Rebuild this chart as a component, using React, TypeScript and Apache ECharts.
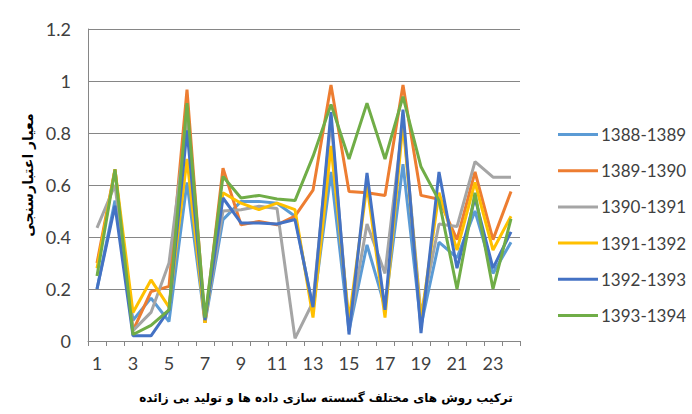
import React, { useEffect, useRef } from "react";
import * as echarts from "echarts";

const categories = ["1","2","3","4","5","6","7","8","9","10","11","12","13","14","15","16","17","18","19","20","21","22","23","24"];
const seriesNames = ["1388-1389", "1389-1390", "1390-1391", "1391-1392", "1392-1393", "1393-1394"];
const s1388 = [0.20, 0.54, 0.08, 0.165, 0.075, 0.61, 0.07, 0.467, 0.537, 0.537, 0.53, 0.48, 0.12, 0.65, 0.04, 0.37, 0.13, 0.68, 0.06, 0.38, 0.32, 0.50, 0.26, 0.38];
const s1389 = [0.30, 0.66, 0.04, 0.19, 0.21, 0.967, 0.07, 0.665, 0.447, 0.46, 0.447, 0.48, 0.58, 0.985, 0.575, 0.57, 0.56, 0.985, 0.56, 0.545, 0.39, 0.65, 0.39, 0.575];
const s1390 = [0.435, 0.60, 0.04, 0.11, 0.30, 0.85, 0.08, 0.50, 0.505, 0.518, 0.51, 0.01, 0.15, 0.85, 0.05, 0.45, 0.26, 0.85, 0.10, 0.45, 0.44, 0.69, 0.63, 0.63];
const s1391 = [0.28, 0.66, 0.11, 0.235, 0.13, 0.70, 0.07, 0.57, 0.53, 0.505, 0.53, 0.505, 0.09, 0.75, 0.08, 0.60, 0.09, 0.84, 0.08, 0.57, 0.35, 0.61, 0.35, 0.48];
const s1392 = [0.20, 0.52, 0.02, 0.02, 0.12, 0.81, 0.08, 0.55, 0.454, 0.454, 0.45, 0.467, 0.13, 0.88, 0.025, 0.646, 0.12, 0.89, 0.03, 0.65, 0.28, 0.55, 0.28, 0.42];
const s1393 = [0.25, 0.66, 0.025, 0.06, 0.12, 0.915, 0.09, 0.633, 0.55, 0.56, 0.546, 0.54, 0.71, 0.91, 0.70, 0.915, 0.70, 0.94, 0.67, 0.54, 0.20, 0.57, 0.20, 0.47];
const colors = ["#5B9BD5", "#ED7D31", "#A5A5A5", "#FFC000", "#4472C4", "#70AD47"];
const xTitle = "ترکیب روش های مختلف گسسته سازی داده ها و تولید بی زائده";
const yTitle = "معیار اعتبارسنجی";

export default function App() {
  const ref = useRef<HTMLDivElement>(null);
  useEffect(() => {
    if (!ref.current) return;
    const chart = echarts.init(ref.current, null, { renderer: "svg" });
    const data = [s1388, s1389, s1390, s1391, s1392, s1393];
    const latin = "Lato, 'Open Sans', sans-serif";
    chart.setOption({
      animation: false,
      backgroundColor: "#ffffff",
      color: colors,
      grid: { left: 88, right: 172, top: 29, bottom: 73, containLabel: false },
      legend: {
        orient: "vertical",
        left: 553,
        top: 121,
        icon: "rect",
        itemWidth: 40,
        itemHeight: 3,
        itemGap: 19.2,
        textStyle: { fontFamily: latin, fontSize: 17, color: "#404040", padding: [0, 0, 0, -2] },
        data: seriesNames,
      },
      xAxis: {
        type: "category",
        data: categories,
        boundaryGap: true,
        axisLine: { lineStyle: { color: "#868686", width: 1 } },
        axisTick: { show: true, interval: 0, length: 5, lineStyle: { color: "#868686" } },
        axisLabel: { interval: 1, margin: 13, fontFamily: latin, fontSize: 18, color: "#404040" },
        splitLine: { show: false },
      },
      yAxis: {
        type: "value",
        min: 0,
        max: 1.2,
        interval: 0.2,
        axisLine: { show: true, lineStyle: { color: "#868686", width: 1 } },
        axisTick: { show: false },
        axisLabel: { margin: 17, fontFamily: latin, fontSize: 18, color: "#404040" },
        splitLine: { lineStyle: { color: "#868686", width: 1 } },
      },
      graphic: [
        {
          type: "text",
          x: 326,
          y: 398,
          style: {
            text: xTitle,
            fontFamily: "'DejaVu Sans', sans-serif",
            fontWeight: "bold",
            fontSize: 12,
            fill: "#000000",
            textAlign: "center",
            textVerticalAlign: "middle",
          },
        },
        {
          type: "text",
          x: 28,
          y: 175,
          rotation: Math.PI / 2,
          style: {
            text: yTitle,
            fontFamily: "'DejaVu Sans', sans-serif",
            fontWeight: "bold",
            fontSize: 14,
            fill: "#000000",
            textAlign: "center",
            textVerticalAlign: "middle",
          },
        },
      ],
      series: seriesNames.map((name, i) => ({
        name,
        type: "line",
        data: data[i],
        symbol: "none",
        lineStyle: { width: 3, color: colors[i] },
        itemStyle: { color: colors[i] },
      })),
    });
    return () => chart.dispose();
  }, []);
  return <div ref={ref} style={{ position: "fixed", left: 0, top: 0, width: 692, height: 414 }} />;
}
